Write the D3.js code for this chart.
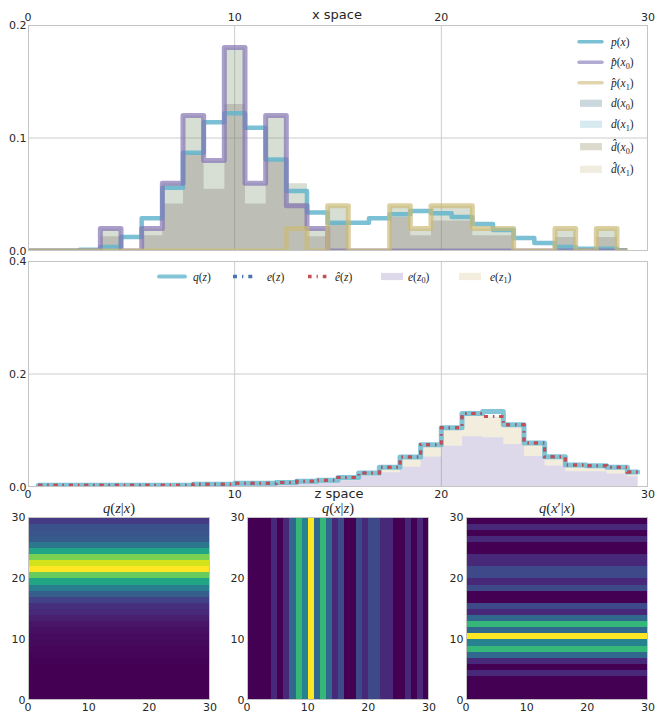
<!DOCTYPE html>
<html><head><meta charset="utf-8">
<script src="https://cdn.jsdelivr.net/npm/d3@7"></script>
<style>body{margin:0;background:#fff}svg{display:block}</style>
</head><body>
<svg id="c" width="662" height="720"></svg>
<script>
// ---------------- data ----------------
const xs = [0,1,2,3,4,5,6,7,8,9,10,11,12,13,14,15,16,17,18,19,20,21,22,23,24,25,26,27,28,29];
const zs = [0.5,1.5,2.5,3.5,4.5,5.5,6.5,7.5,8.5,9.5,10.5,11.5,12.5,13.5,14.5,15.5,16.5,17.5,18.5,19.5,20.5,21.5,22.5,23.5,24.5,25.5,26.5,27.5,28.5,29.5];
const axisTicks = [0,10,20,30];
const topYTicks = [0, 0.1, 0.2];
const midYTicks = [0, 0.2, 0.4];

const p_x     = [0.0003,0.0003,0.0003,0.001,0.0035,0.0125,0.029,0.056,0.087,0.114,0.122,0.109,0.081,0.053,0.034,0.025,0.025,0.029,0.0325,0.0355,0.0334,0.030,0.024,0.0185,0.0116,0.007,0.0036,0.002,0.002,0.0006];
const phat_x0 = [0,0,0,0,0.02,0,0.02,0.06,0.12,0.08,0.18,0.06,0.12,0.04,0.02,0,0,0,0,0,0,0,0,0,0,0,0,0,0,0];
const phat_x1 = [0,0,0,0,0,0,0,0,0,0,0,0,0,0.02,0,0.04,0,0,0.04,0.02,0.04,0.04,0.02,0.02,0,0,0.02,0,0.02,0];
const d_x0    = [0,0,0,0,0.013,0,0.014,0.042,0.087,0.055,0.13,0.042,0.081,0.028,0.013,0,0,0,0,0,0,0,0,0,0,0,0,0,0,0];
const d_x1    = [0,0,0,0,0,0,0,0,0,0,0,0,0,0.014,0,0.026,0,0,0.03,0.014,0.027,0.027,0.014,0.014,0,0,0.0125,0,0.0125,0];
const dhat_x0 = [0,0,0,0,0.02,0,0.02,0.06,0.12,0.08,0.18,0.06,0.12,0.04,0.02,0,0,0,0,0,0,0,0,0,0,0,0,0,0,0];
const dhat_x1 = [0,0,0,0,0,0,0,0,0,0,0,0,0,0.02,0,0.04,0,0,0.04,0.02,0.04,0.04,0.02,0.02,0,0,0.02,0,0.02,0];

const q_z    = [0.003,0.003,0.003,0.003,0.003,0.003,0.003,0.003,0.005,0.005,0.0065,0.0065,0.008,0.010,0.012,0.017,0.025,0.035,0.053,0.075,0.105,0.130,0.1335,0.110,0.078,0.0535,0.039,0.0376,0.035,0.0265];
const e_z    = [0.003,0.003,0.003,0.003,0.003,0.003,0.003,0.003,0.005,0.005,0.0065,0.0065,0.008,0.010,0.012,0.017,0.025,0.035,0.053,0.075,0.105,0.130,0.125,0.110,0.078,0.0535,0.039,0.0376,0.035,0.0265];
const ehat_z = [0.003,0.003,0.003,0.003,0.003,0.003,0.003,0.003,0.005,0.005,0.0065,0.0065,0.008,0.010,0.012,0.017,0.025,0.035,0.053,0.075,0.105,0.130,0.125,0.110,0.078,0.0535,0.039,0.0376,0.035,0.0265];
const e_z0   = [0.002,0.002,0.002,0.002,0.002,0.002,0.002,0.002,0.0035,0.0035,0.0045,0.0045,0.006,0.007,0.009,0.012,0.020,0.026,0.036,0.054,0.073,0.090,0.088,0.076,0.055,0.038,0.028,0.028,0.024,0.019];
const e_z1   = [0.001,0.001,0.001,0.001,0.001,0.001,0.001,0.001,0.0015,0.0015,0.002,0.002,0.002,0.003,0.003,0.005,0.005,0.009,0.017,0.021,0.032,0.040,0.037,0.034,0.023,0.0155,0.011,0.0096,0.011,0.0075];

// heatmaps (cells are constant along one direction in the picture)
const qzx_rows  = [0.0006,0.0006,0.0007,0.0008,0.0009,0.001,0.0014,0.002,0.0027,0.0038,0.0047,0.006,0.008,0.012,0.016,0.019,0.027,0.040,0.057,0.080,0.104,0.135,0.126,0.108,0.080,0.054,0.038,0.036,0.034,0.024];
const qxz_cols  = [0,0,0,0,0.02,0,0.02,0.06,0.12,0.08,0.18,0.06,0.12,0.06,0.02,0.04,0,0,0.04,0.02,0.04,0.04,0.02,0.02,0,0,0.02,0,0.02,0];
const qxpx_rows = [0,0,0,0,0.02,0,0.02,0.06,0.12,0.08,0.18,0.06,0.12,0.06,0.02,0.04,0,0,0.04,0.02,0.04,0.04,0.02,0.02,0,0,0.02,0,0.02,0];

// ---------------- styles ----------------
const C = {cyan:'#64B5CD', purple:'#8172B2', khaki:'#CCB974', blue:'#4C72B0', red:'#C44E52',
  grid:'#cccccc', frame:'#c4c4c4', text:'#262626'};
const SANS = '"DejaVu Sans", sans-serif';
const SERIF = '"Liberation Serif","DejaVu Serif",serif';

const svg = d3.select('#c');

function mathText(g, x, y, parts, size, anchor) {
  const t = g.append('text').attr('x', x).attr('y', y)
    .attr('font-family', SERIF).attr('font-size', size).attr('fill', C.text)
    .attr('text-anchor', anchor || 'start');
  parts.forEach(([s, st]) => {
    const ts = t.append('tspan').text(s);
    if (st === 'i') ts.attr('font-style', 'italic');
    if (st === 's') ts.attr('font-size', size * 0.72).attr('dy', size * 0.25);
    if (st === 'a') ts.attr('dy', -size * 0.25); // after subscript
  });
  return t;
}

function panel(id, xr, yr, xDom, yDom) {
  const x = d3.scaleLinear().domain(xDom).range(xr);
  const y = d3.scaleLinear().domain(yDom).range(yr);
  svg.append('clipPath').attr('id', id).append('rect')
    .attr('x', xr[0]).attr('y', yr[1]).attr('width', xr[1]-xr[0]).attr('height', yr[0]-yr[1]);
  return {x, y, g: svg.append('g').attr('clip-path', `url(#${id})`)};
}

function grid(P, xt, yt) {
  const gg = P.g.append('g');
  gg.selectAll('.gx').data(xt).join('line')
    .attr('x1', d => P.x(d)).attr('x2', d => P.x(d))
    .attr('y1', P.y.range()[0]).attr('y2', P.y.range()[1])
    .attr('stroke', C.grid).attr('stroke-width', 1);
  gg.selectAll('.gy').data(yt).join('line')
    .attr('y1', d => P.y(d)).attr('y2', d => P.y(d))
    .attr('x1', P.x.range()[0]).attr('x2', P.x.range()[1])
    .attr('stroke', C.grid).attr('stroke-width', 1);
}

function frame(P) {
  const [x0, x1] = P.x.range(), [y1, y0] = P.y.range();
  svg.append('rect').attr('x', x0 + 0.5).attr('y', y0 + 0.5)
    .attr('width', x1 - x0 - 1).attr('height', y1 - y0 - 1)
    .attr('fill', 'none').attr('stroke', C.frame).attr('stroke-width', 1);
}

function stepArea(P, xv, base, vals) {
  return d3.area().curve(d3.curveStep)
    .x((d, i) => P.x(xv[i]))
    .y0((d, i) => P.y(base ? base[i] : 0))
    .y1((d, i) => P.y((base ? base[i] : 0) + vals[i]))(vals);
}
function stepLine(P, xv, vals) {
  return d3.line().curve(d3.curveStep)
    .x((d, i) => P.x(xv[i])).y(d => P.y(d))(vals);
}

// ================= TOP PANEL : x space =================
const T = panel('clipTop', [28, 648], [251, 25], [0, 30], [0, 0.2]);
grid(T, axisTicks, topYTicks);
// bars (semi-transparent fills over grid)
T.g.append('path').attr('d', stepArea(T, xs, null, dhat_x0)).attr('fill', '#7a9470').attr('fill-opacity', 0.3);
T.g.append('path').attr('d', stepArea(T, xs, dhat_x0, dhat_x1)).attr('fill', '#7a9470').attr('fill-opacity', 0.3);
T.g.append('path').attr('d', stepArea(T, xs, null, d_x0)).attr('fill', '#807870').attr('fill-opacity', 0.3);
T.g.append('path').attr('d', stepArea(T, xs, d_x0, d_x1)).attr('fill', '#807870').attr('fill-opacity', 0.3);
// lines
T.g.append('path').attr('d', stepLine(T, xs, p_x)).attr('fill', 'none')
  .attr('stroke', C.cyan).attr('stroke-opacity', 0.85).attr('stroke-width', 4.5).attr('stroke-linejoin', 'round');
T.g.append('path').attr('d', stepLine(T, xs, phat_x0)).attr('fill', 'none')
  .attr('stroke', C.purple).attr('stroke-opacity', 0.68).attr('stroke-width', 5).attr('stroke-linejoin', 'round');
T.g.append('path').attr('d', stepLine(T, xs, phat_x1)).attr('fill', 'none')
  .attr('stroke', C.khaki).attr('stroke-opacity', 0.68).attr('stroke-width', 5).attr('stroke-linejoin', 'round');
frame(T);
// ticks
svg.append('g').selectAll('text').data(axisTicks).join('text')
  .attr('x', d => T.x(d)).attr('y', 20.5).attr('text-anchor', 'middle')
  .attr('font-family', SANS).attr('font-size', 11).attr('fill', C.text).text(d => d);
svg.append('g').selectAll('text').data(topYTicks).join('text')
  .attr('x', 26.5).attr('y', d => T.y(d) + 4).attr('text-anchor', 'end')
  .attr('font-family', SANS).attr('font-size', 11).attr('fill', C.text).text(d => d.toFixed(1));
svg.append('text').attr('x', 337).attr('y', 18.5).attr('text-anchor', 'middle')
  .attr('font-family', SANS).attr('font-size', 13).attr('fill', C.text).text('x space');

// top legend
const LT = svg.append('g');
const topLegend = [
  {type:'line', color:C.cyan, op:0.85, parts:[['p','i'],['(','n'],['x','i'],[')','n']]},
  {type:'line', color:C.purple, op:0.6, parts:[['p\u0302','i'],['(','n'],['x','i'],['0','s'],[')','a']]},
  {type:'line', color:C.khaki, op:0.6, parts:[['p\u0302','i'],['(','n'],['x','i'],['1','s'],[')','a']]},
  {type:'patch', color:'#cbd9df', parts:[['d','i'],['(','n'],['x','i'],['0','s'],[')','a']]},
  {type:'patch', color:'#d7eaf0', parts:[['d','i'],['(','n'],['x','i'],['1','s'],[')','a']]},
  {type:'patch', color:'#dcdacd', parts:[['d\u0302','i'],['(','n'],['x','i'],['0','s'],[')','a']]},
  {type:'patch', color:'#f1ece0', parts:[['d\u0302','i'],['(','n'],['x','i'],['1','s'],[')','a']]}
];
const topLegY = [41.7, 62.3, 82.7, 103.3, 124.3, 146.7, 169.3];
topLegend.forEach((it, k) => {
  const yy = topLegY[k];
  if (it.type === 'line') {
    LT.append('line').attr('x1', 579).attr('x2', 602).attr('y1', yy).attr('y2', yy)
      .attr('stroke', it.color).attr('stroke-opacity', it.op).attr('stroke-width', 3.5).attr('stroke-linecap', 'round');
  } else {
    LT.append('rect').attr('x', 580).attr('y', yy - 3.6).attr('width', 22).attr('height', 7.2).attr('fill', it.color);
  }
  mathText(LT, 611, yy + 4, it.parts, 11.5);
});

// ================= MIDDLE PANEL : z space =================
const M = panel('clipMid', [28, 648], [487, 261], [0, 30], [0, 0.4]);
grid(M, axisTicks, midYTicks);
M.g.append('path').attr('d', stepArea(M, zs, null, e_z0)).attr('fill', C.purple).attr('fill-opacity', 0.27);
M.g.append('path').attr('d', stepArea(M, zs, e_z0, e_z1)).attr('fill', C.khaki).attr('fill-opacity', 0.25);
M.g.append('path').attr('d', stepLine(M, zs, q_z)).attr('fill', 'none')
  .attr('stroke', C.cyan).attr('stroke-opacity', 0.8).attr('stroke-width', 5)
  .attr('stroke-linejoin', 'round').attr('stroke-linecap', 'round');
M.g.append('path').attr('d', stepLine(M, zs, e_z)).attr('fill', 'none')
  .attr('stroke', C.blue).attr('stroke-width', 3).attr('stroke-dasharray', '4,5,1.3,5');
M.g.append('path').attr('d', stepLine(M, zs, ehat_z)).attr('fill', 'none')
  .attr('stroke', C.red).attr('stroke-width', 3).attr('stroke-dasharray', '4,5,1.3,5');
frame(M);
svg.append('g').selectAll('text').data(axisTicks).join('text')
  .attr('x', d => M.x(d)).attr('y', 497.5).attr('text-anchor', 'middle')
  .attr('font-family', SANS).attr('font-size', 11).attr('fill', C.text).text(d => d);
svg.append('g').selectAll('text').data(midYTicks).join('text')
  .attr('x', 26.5).attr('y', d => M.y(d) + 4).attr('text-anchor', 'end')
  .attr('font-family', SANS).attr('font-size', 11).attr('fill', C.text).text(d => d.toFixed(1));
svg.append('text').attr('x', 339).attr('y', 498).attr('text-anchor', 'middle')
  .attr('font-family', SANS).attr('font-size', 13).attr('fill', C.text).text('z space');

// middle legend
const LM = svg.append('g');
const ly = 276.5;
LM.append('line').attr('x1', 159).attr('x2', 185).attr('y1', ly).attr('y2', ly)
  .attr('stroke', C.cyan).attr('stroke-opacity', 0.8).attr('stroke-width', 4).attr('stroke-linecap', 'round');
mathText(LM, 193, ly + 4, [['q','i'],['(','n'],['z','i'],[')','n']], 11.5);
LM.append('line').attr('x1', 233).attr('x2', 253).attr('y1', ly).attr('y2', ly)
  .attr('stroke', C.blue).attr('stroke-width', 3.5).attr('stroke-dasharray', '4,5,1.3,5');
mathText(LM, 267, ly + 4, [['e','i'],['(','n'],['z','i'],[')','n']], 11.5);
LM.append('line').attr('x1', 308).attr('x2', 327).attr('y1', ly).attr('y2', ly)
  .attr('stroke', C.red).attr('stroke-width', 3.5).attr('stroke-dasharray', '3.6,5,1.2,5');
mathText(LM, 335, ly + 4, [['e\u0302','i'],['(','n'],['z','i'],[')','n']], 11.5);
LM.append('rect').attr('x', 381).attr('y', ly - 3.6).attr('width', 22).attr('height', 7.2)
  .attr('fill', C.purple).attr('fill-opacity', 0.27);
mathText(LM, 408, ly + 4, [['e','i'],['(','n'],['z','i'],['0','s'],[')','a']], 11.5);
LM.append('rect').attr('x', 459).attr('y', ly - 3.6).attr('width', 22).attr('height', 7.2)
  .attr('fill', C.khaki).attr('fill-opacity', 0.25);
mathText(LM, 490, ly + 4, [['e','i'],['(','n'],['z','i'],['1','s'],[')','a']], 11.5);

// ================= HEATMAPS =================
const heatDefs = [
  {left: 28,  title: [['q','i'],['(','n'],['z','i'],['|','n'],['x','i'],[')','n']], val: (i, j) => qzx_rows[j], all: qzx_rows},
  {left: 247, title: [['q','i'],['(','n'],['x','i'],['|','n'],['z','i'],[')','n']], val: (i, j) => qxz_cols[i], all: qxz_cols},
  {left: 466, title: [['q','i'],['(','n'],['x','i'],['\u2032','n'],['|','n'],['x','i'],[')','n']], val: (i, j) => qxpx_rows[j], all: qxpx_rows}
];
const cells = d3.cross(xs, xs);
heatDefs.forEach(h => {
  const hx = d3.scaleLinear().domain([0, 30]).range([h.left, h.left + 182]);
  const hy = d3.scaleLinear().domain([0, 30]).range([700, 517]);
  const col = d3.scaleSequential(d3.interpolateViridis).domain(d3.extent(h.all));
  const g = svg.append('g').attr('shape-rendering', 'crispEdges');
  g.selectAll('rect').data(cells).join('rect')
    .attr('x', d => hx(d[0])).attr('y', d => hy(d[1] + 1))
    .attr('width', d => hx(d[0] + 1) - hx(d[0]) + 0.4)
    .attr('height', d => hy(d[1]) - hy(d[1] + 1) + 0.4)
    .attr('fill', d => col(h.val(d[0], d[1])));
  svg.append('rect').attr('x', h.left + 0.5).attr('y', 517.5).attr('width', 181).attr('height', 182)
    .attr('fill', 'none').attr('stroke', C.frame).attr('stroke-width', 1);
  svg.append('g').selectAll('text').data(axisTicks).join('text')
    .attr('x', d => hx(d)).attr('y', 711).attr('text-anchor', 'middle')
    .attr('font-family', SANS).attr('font-size', 11).attr('fill', C.text).text(d => d);
  svg.append('g').selectAll('text').data(axisTicks).join('text')
    .attr('x', h.left - 2.5).attr('y', d => hy(d) + 4).attr('text-anchor', 'end')
    .attr('font-family', SANS).attr('font-size', 11).attr('fill', C.text).text(d => d);
  mathText(svg, h.left + 91, 513, h.title, 14.5, 'middle');
});
</script>
</body></html>
